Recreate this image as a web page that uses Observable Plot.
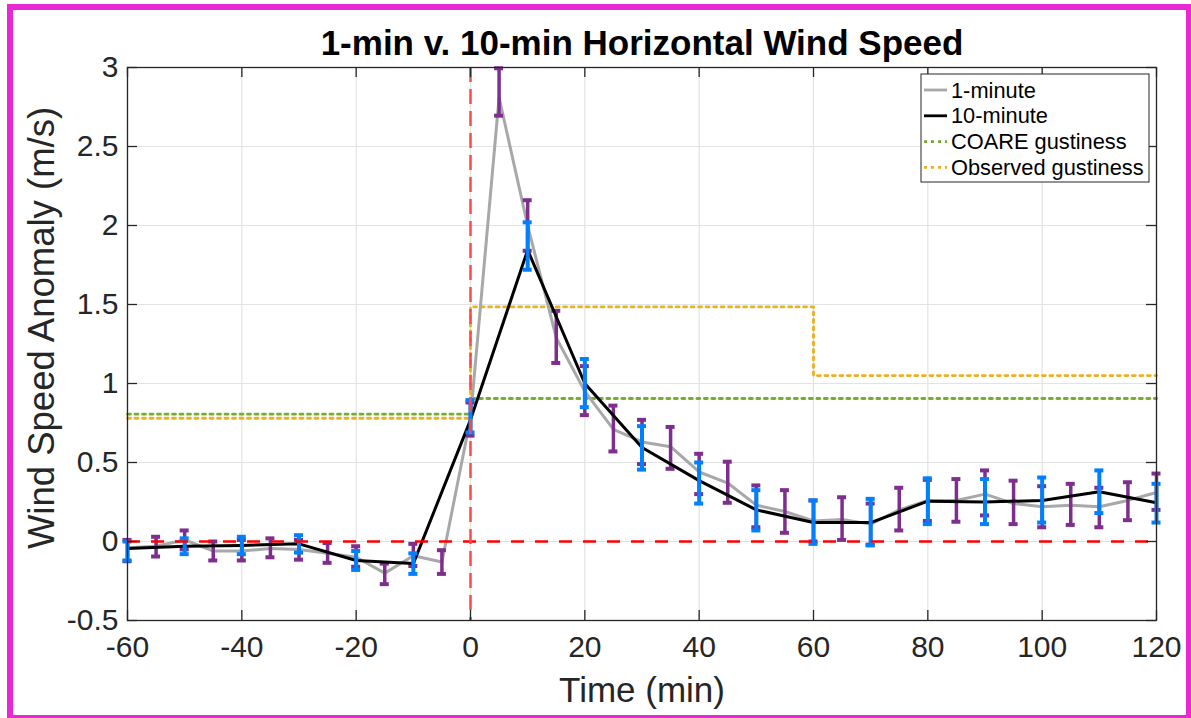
<!DOCTYPE html>
<html><head><meta charset="utf-8">
<script src="https://cdn.jsdelivr.net/npm/d3@7"></script>
<script src="https://cdn.jsdelivr.net/npm/@observablehq/plot@0.6"></script>
<style>
html,body{margin:0;padding:0;background:#fff;}
#chart{position:relative;width:1191px;height:718px;overflow:hidden;}
</style></head><body><div id="chart"></div>
<script>
const FONT = "'Liberation Sans', Arial, Helvetica, sans-serif";
const titleText = "1-min v. 10-min Horizontal Wind Speed";
const xLabelText = "Time (min)";
const yLabelText = "Wind Speed Anomaly (m/s)";
const xTicks = [-60, -40, -20, 0, 20, 40, 60, 80, 100, 120];
const yTicks = [-0.5, 0, 0.5, 1, 1.5, 2, 2.5, 3];

// 1-minute series (every 5 min)
const time1 = [-60,-55,-50,-45,-40,-35,-30,-25,-20,-15,-10,-5,0,5,10,15,20,25,30,35,40,45,50,55,60,65,70,75,80,85,90,95,100,105,110,115,120];
const speed1 = [-0.04,-0.03,0.01,-0.06,-0.06,-0.045,-0.05,-0.075,-0.10,-0.20,-0.09,-0.13,0.78,2.81,2.0,1.29,0.95,0.71,0.63,0.60,0.44,0.37,0.23,0.19,0.13,0.14,0.11,0.20,0.26,0.26,0.30,0.24,0.22,0.23,0.22,0.26,0.31];
const low1 = [-0.125,-0.095,-0.05,-0.12,-0.12,-0.10,-0.115,-0.135,-0.16,-0.27,-0.155,-0.205,0.67,2.695,1.84,1.13,0.80,0.57,0.49,0.46,0.30,0.245,0.09,0.055,0.0,0.01,-0.02,0.07,0.13,0.125,0.165,0.11,0.09,0.105,0.09,0.135,0.20];
const high1 = [0.01,0.03,0.07,0.0,0.01,0.02,0.01,-0.01,-0.03,-0.14,-0.015,-0.055,0.88,2.995,2.16,1.46,1.11,0.86,0.77,0.725,0.555,0.505,0.355,0.325,0.26,0.28,0.24,0.34,0.39,0.395,0.45,0.385,0.35,0.365,0.34,0.375,0.43];

// 10-minute series (every 10 min)
const time10 = [-60,-50,-40,-30,-20,-10,0,10,20,30,40,50,60,70,80,90,100,110,120];
const speed10 = [-0.045,-0.03,-0.025,-0.015,-0.12,-0.14,0.77,1.845,1.0,0.595,0.385,0.20,0.12,0.12,0.255,0.25,0.26,0.315,0.245];
const low10 = [-0.12,-0.08,-0.08,-0.07,-0.18,-0.205,0.69,1.72,0.85,0.455,0.24,0.07,-0.015,-0.025,0.11,0.11,0.12,0.18,0.12];
const high10 = [0.0,0.02,0.03,0.04,-0.06,-0.075,0.895,2.02,1.155,0.73,0.50,0.325,0.26,0.27,0.40,0.395,0.405,0.45,0.365];

// gustiness step lines
const coareTime = [-60, 0, 120];
const coareGust = [0.806, 0.905, 0.905];
const obsTime = [-60, 0, 60, 120];
const obsGust = [0.78, 1.485, 1.05, 1.05];

const legendLabels = ["1-minute", "10-minute", "COARE gustiness", "Observed gustiness"];
const legendColors = ["#a8a8a8", "#000000", "#77ac30", "#edb120"];
const legendDash = [null, null, "3,4", "3,4"];

const one = time1.map((t, i) => ({t, v: speed1[i], lo: low1[i], hi: high1[i]}));
const ten = time10.map((t, i) => ({t, v: speed10[i], lo: low10[i], hi: high10[i]}));
const coare = coareTime.map((t, i) => ({t, g: coareGust[i]}));
const obs = obsTime.map((t, i) => ({t, g: obsGust[i]}));

const W = 1191, H = 718, ML = 127, MR = 35, MT = 67, MB = 98;
const FH = H - MT - MB, FW = W - ML - MR;
const AX = "#262626";
const PURPLE = "#7e2f8e", BLUE = "#0080ff";

function errorBars(data, color, w, capHalf) {
  return [
    Plot.ruleX(data, {x: "t", y1: "lo", y2: "hi", stroke: color, strokeWidth: w}),
    Plot.ruleY(data, {x1: "t", x2: "t", y: "lo", insetLeft: -capHalf, insetRight: -capHalf, stroke: color, strokeWidth: 4}),
    Plot.ruleY(data, {x1: "t", x2: "t", y: "hi", insetLeft: -capHalf, insetRight: -capHalf, stroke: color, strokeWidth: 4})
  ];
}

const svg = Plot.plot({
  width: W, height: H,
  marginLeft: ML, marginRight: MR, marginTop: MT, marginBottom: MB,
  style: {fontFamily: FONT, fontSize: "30px", color: AX, background: "white", overflow: "visible"},
  x: {domain: [-60, 120], ticks: xTicks, tickFormat: d => String(d), tickSize: 0, tickPadding: 15, label: null},
  y: {domain: [-0.5, 3], ticks: yTicks, tickFormat: d => String(d), tickSize: 0, tickPadding: 9, label: null},
  marks: [
    Plot.ruleX(xTicks, {x: d => d, stroke: "#e3e3e3", strokeWidth: 1.2}),
    Plot.ruleY(yTicks, {y: d => d, stroke: "#e3e3e3", strokeWidth: 1.2}),
    Plot.line(coare, {x: "t", y: "g", curve: "step-after", stroke: "#77ac30", strokeWidth: 2.8, strokeDasharray: "3,4.5"}),
    Plot.line(obs, {x: "t", y: "g", curve: "step-after", stroke: "#edb120", strokeWidth: 2.8, strokeDasharray: "3,4.5"}),
    Plot.line(one, {x: "t", y: "v", stroke: "#a8a8a8", strokeWidth: 3}),
    ...errorBars(one, PURPLE, 3.5, 4.5),
    Plot.line(ten, {x: "t", y: "v", stroke: "#000000", strokeWidth: 3}),
    ...errorBars(ten, BLUE, 4, 4.5),
    Plot.ruleY([0], {y: d => d, stroke: "#ff0000", strokeWidth: 2.5, strokeDasharray: "13,11"}),
    Plot.ruleX([0], {x: d => d, stroke: "#ff4848", strokeWidth: 2.5, strokeDasharray: "15,7"}),
    Plot.frame({stroke: AX, strokeWidth: 1.3}),
    Plot.ruleX(xTicks, {x: d => d, insetTop: FH - 10, stroke: AX, strokeWidth: 1.3}),
    Plot.ruleX(xTicks, {x: d => d, insetBottom: FH - 10, stroke: AX, strokeWidth: 1.3}),
    Plot.ruleY(yTicks, {y: d => d, insetRight: FW - 10, stroke: AX, strokeWidth: 1.3}),
    Plot.ruleY(yTicks, {y: d => d, insetLeft: FW - 10, stroke: AX, strokeWidth: 1.3}),
    Plot.text([titleText], {text: d => d, frameAnchor: "top", lineAnchor: "middle", textAnchor: "middle", dy: -24, fontSize: 35, fontWeight: "bold", fill: "#000"}),
    Plot.text([xLabelText], {text: d => d, frameAnchor: "bottom", lineAnchor: "middle", textAnchor: "middle", dy: 70, fontSize: 35, fill: AX}),
    Plot.text([yLabelText], {text: d => d, frameAnchor: "left", lineAnchor: "middle", textAnchor: "middle", rotate: -90, dx: -85, dy: -16, fontSize: 36.5, fill: AX})
  ]
});

// legend (pixel-positioned box in the upper right of the axes)
const s = d3.select(svg);
const lg = s.append("g").attr("font-family", FONT).attr("font-size", 21.8).attr("text-anchor", "start");
const LX = 921, LY = 74, LW = 228, LH = 108;
lg.append("rect").attr("x", LX).attr("y", LY).attr("width", LW).attr("height", LH)
  .attr("fill", "white").attr("stroke", AX).attr("stroke-width", 1);
legendLabels.forEach((lab, i) => {
  const yy = LY + 16 + i * 25.8;
  const ln = lg.append("line").attr("x1", LX + 3).attr("x2", LX + 26).attr("y1", yy).attr("y2", yy)
    .attr("stroke", legendColors[i]).attr("stroke-width", 2.8);
  if (legendDash[i]) ln.attr("stroke-dasharray", legendDash[i]);
  lg.append("text").attr("x", LX + 30).attr("y", yy).attr("dy", "0.35em").attr("fill", "#000")
    .attr("text-anchor", "start").text(lab);
});

// outer magenta border
s.append("rect").attr("x", 10).attr("y", 7).attr("width", 1179).attr("height", 711)
  .attr("fill", "none").attr("stroke", "#e829d3").attr("stroke-width", 6);

document.getElementById("chart").appendChild(svg);
</script></body></html>
